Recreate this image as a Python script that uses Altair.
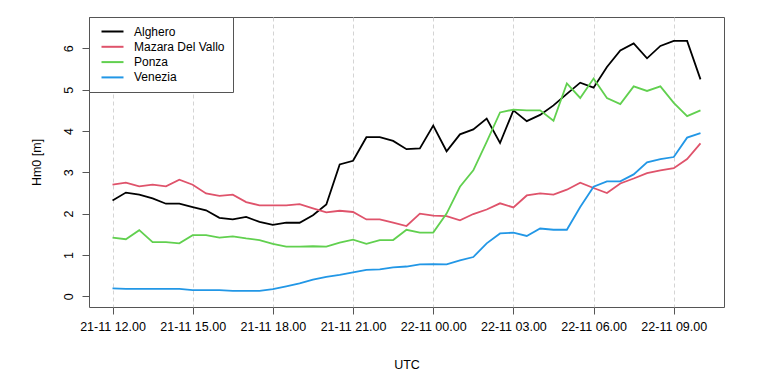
import altair as alt
import pandas as pd

# 30-minute time steps, 21-11 12:00 UTC .. 22-11 10:00 UTC
times = pd.date_range("2022-11-21 12:00", periods=45, freq="30min").strftime("%Y-%m-%dT%H:%M:00Z").tolist()

stations = ["Alghero", "Mazara Del Vallo", "Ponza", "Venezia"]
colors = ["#000000", "#DF536B", "#61D04F", "#2297E6"]

alghero = [2.32, 2.51, 2.46, 2.37, 2.24, 2.24, 2.16, 2.08, 1.90, 1.86, 1.92, 1.80, 1.73,
           1.78, 1.78, 1.96, 2.22, 3.19, 3.28, 3.85, 3.85, 3.76, 3.56, 3.58, 4.13,
           3.51, 3.92, 4.04, 4.30, 3.71, 4.50, 4.24, 4.39, 4.62, 4.90, 5.17, 5.05,
           5.55, 5.95, 6.12, 5.76, 6.06, 6.18, 6.18, 5.25]
mazara = [2.70, 2.75, 2.66, 2.70, 2.66, 2.82, 2.70, 2.49, 2.43, 2.46, 2.28, 2.20, 2.20,
          2.20, 2.23, 2.13, 2.03, 2.07, 2.04, 1.86, 1.86, 1.78, 1.70, 2.00, 1.95,
          1.94, 1.84, 1.99, 2.10, 2.25, 2.15, 2.44, 2.49, 2.46, 2.58, 2.75, 2.62,
          2.50, 2.73, 2.85, 2.98, 3.05, 3.10, 3.32, 3.70]
ponza = [1.42, 1.38, 1.60, 1.31, 1.31, 1.28, 1.48, 1.48, 1.42, 1.45, 1.40, 1.36, 1.27,
         1.20, 1.20, 1.21, 1.20, 1.30, 1.37, 1.27, 1.36, 1.36, 1.61, 1.54, 1.54,
         2.00, 2.65, 3.05, 3.74, 4.45, 4.52, 4.50, 4.50, 4.25, 5.15, 4.80, 5.27,
         4.80, 4.65, 5.08, 4.97, 5.08, 4.68, 4.36, 4.50]
venezia = [0.19, 0.18, 0.18, 0.18, 0.18, 0.18, 0.15, 0.15, 0.15, 0.13, 0.13, 0.13, 0.17,
           0.24, 0.31, 0.40, 0.47, 0.52, 0.58, 0.64, 0.65, 0.70, 0.72, 0.77, 0.78,
           0.77, 0.87, 0.95, 1.28, 1.52, 1.54, 1.46, 1.64, 1.61, 1.61, 2.16, 2.65,
           2.78, 2.78, 2.95, 3.24, 3.32, 3.37, 3.84, 3.95]

series = {"Alghero": alghero, "Mazara Del Vallo": mazara, "Ponza": ponza, "Venezia": venezia}
rows = []
for name, vals in series.items():
    for t, v in zip(times, vals):
        rows.append({"time": t, "station": name, "hm0": v})
df = pd.DataFrame(rows)

tick_hours = [(21, 12), (21, 15), (21, 18), (21, 21), (22, 0), (22, 3), (22, 6), (22, 9)]
tick_values = [alt.DateTime(year=2022, month=11, date=d, hours=h, utc=True) for d, h in tick_hours]
x_domain = [alt.DateTime(year=2022, month=11, date=21, hours=11, minutes=7, seconds=12, utc=True),
            alt.DateTime(year=2022, month=11, date=22, hours=10, minutes=52, seconds=48, utc=True)]

font = "Liberation Sans"
fs = 12.5

chart = alt.Chart(df).mark_line(strokeWidth=1.8).encode(
    x=alt.X("time:T",
            scale=alt.Scale(type="utc", domain=x_domain, nice=False),
            axis=alt.Axis(values=tick_values, title="UTC",
                          labelExpr="utcFormat(datum.value, '%d-%m %H.%M')",
                          grid=True, gridDash=[4, 3], gridColor="#d4d4d4", gridWidth=1,
                          domain=False, tickSize=7, tickColor="#555555",
                          labelFont=font, labelFontSize=fs, labelColor="black",
                          titleFont=font, titleFontSize=fs, titleColor="black",
                          titleFontWeight="normal",
                          labelPadding=6, titlePadding=26)),
    y=alt.Y("hm0:Q",
            scale=alt.Scale(domain=[-0.26, 6.76], nice=False, zero=False),
            axis=alt.Axis(values=[0, 1, 2, 3, 4, 5, 6], title="Hm0 [m]", grid=False,
                          domain=False, tickSize=7, tickColor="#555555",
                          labelAngle=270, labelAlign="center", labelBaseline="alphabetic",
                          labelFont=font, labelFontSize=fs, labelColor="black",
                          titleFont=font, titleFontSize=fs, titleColor="black",
                          titleFontWeight="normal",
                          labelPadding=9.5, titlePadding=19.5)),
    color=alt.Color("station:N",
                    scale=alt.Scale(domain=stations, range=colors),
                    legend=alt.Legend(title=None, orient="none", legendX=0, legendY=0,
                                      symbolType="M-2,0H2", symbolSize=121,
                                      symbolStrokeWidth=2, symbolOffset=9,
                                      labelOffset=15, padding=8, rowPadding=2.3,
                                      strokeColor="#555555", fillColor="white",
                                      labelFontSize=12, labelFont=font,
                                      labelColor="black", labelLimit=300)),
).properties(
    width=635, height=290,
    background="white",
    autosize=alt.AutoSizeParams(type="none"),
    padding={"left": 89, "top": 17, "right": 44, "bottom": 71},
).configure_view(
    stroke="#555555", strokeWidth=1
)

chart.save("out.html", embed_options={"renderer": "svg", "actions": False})
